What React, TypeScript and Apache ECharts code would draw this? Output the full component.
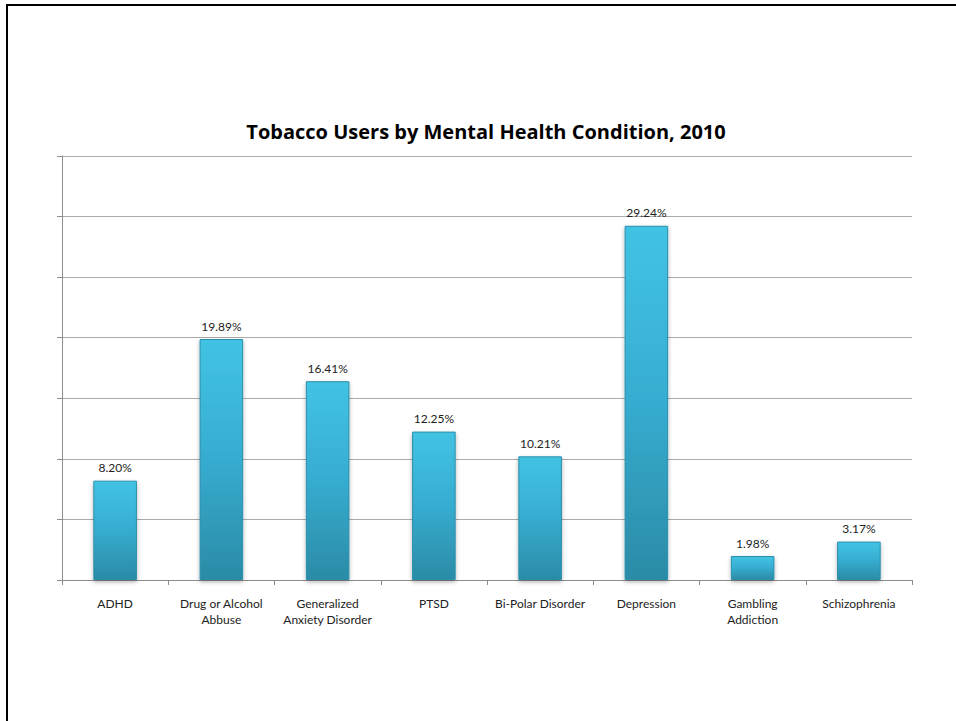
import React, { useEffect, useRef } from "react";
import * as echarts from "echarts";

const categories = [
  "ADHD",
  "Drug or Alcohol\nAbbuse",
  "Generalized\nAnxiety Disorder",
  "PTSD",
  "Bi-Polar Disorder",
  "Depression",
  "Gambling\nAddiction",
  "Schizophrenia",
];
const values = [8.2, 19.89, 16.41, 12.25, 10.21, 29.24, 1.98, 3.17];
const titleText = "Tobacco Users by Mental Health Condition, 2010";

export default function App() {
  const ref = useRef<HTMLDivElement>(null);
  useEffect(() => {
    if (!ref.current) return;
    const chart = echarts.init(ref.current, null, { renderer: "svg" });
    chart.setOption({
      animation: false,
      backgroundColor: "#ffffff",
      title: {
        text: titleText,
        left: 481,
        textAlign: "center",
        top: 116,
        textStyle: {
          fontFamily: "'Open Sans', Lato, sans-serif",
          fontWeight: "bold",
          fontSize: 20,
          color: "#000000",
        },
      },
      grid: { left: 62, right: 44, top: 156, bottom: 141 },
      xAxis: {
        type: "category",
        data: categories,
        axisLine: { lineStyle: { color: "#8c8c8c", width: 1 } },
        axisTick: { show: true, length: 5, lineStyle: { color: "#8c8c8c" } },
        axisLabel: {
          margin: 15,
          fontFamily: "Lato, 'Open Sans', sans-serif",
          fontSize: 12,
          color: "#222222",
          lineHeight: 16,
          interval: 0,
        },
        splitLine: { show: false },
      },
      yAxis: {
        type: "value",
        min: 0,
        max: 35,
        interval: 5,
        axisLine: { show: true, lineStyle: { color: "#8c8c8c", width: 1 } },
        axisTick: { show: true, length: 5, lineStyle: { color: "#8c8c8c" } },
        axisLabel: { show: false },
        splitLine: { show: true, lineStyle: { color: "#aaaaaa", width: 1 } },
      },
      series: [
        {
          type: "bar",
          data: values,
          barWidth: "41%",
          itemStyle: {
            color: new echarts.graphic.LinearGradient(0, 0, 0, 1, [
              { offset: 0, color: "#42c3e4" },
              { offset: 0.5, color: "#36acd0" },
              { offset: 1, color: "#2b8ba6" },
            ]),
            borderColor: "#2a8fac",
            borderWidth: 1,
            shadowColor: "rgba(0,0,0,0.3)",
            shadowBlur: 4,
            shadowOffsetY: 2,
          },
          label: {
            show: true,
            position: "top",
            distance: 7,
            formatter: (p: any) => p.value.toFixed(2) + "%",
            fontFamily: "Lato, 'Open Sans', sans-serif",
            fontSize: 12,
            color: "#222222",
          },
        },
      ],
    });
    return () => chart.dispose();
  }, []);
  return (
    <div
      style={{
        position: "fixed",
        left: 0,
        top: 0,
        width: 956,
        height: 721,
        background: "#fff",
        overflow: "hidden",
      }}
    >
      <div ref={ref} style={{ position: "absolute", left: 0, top: 0, width: 956, height: 721 }} />
      <div
        style={{
          position: "absolute",
          left: 6,
          top: 4,
          width: 960,
          height: 730,
          borderTop: "2px solid #000",
          borderLeft: "2px solid #000",
          pointerEvents: "none",
        }}
      />
    </div>
  );
}
